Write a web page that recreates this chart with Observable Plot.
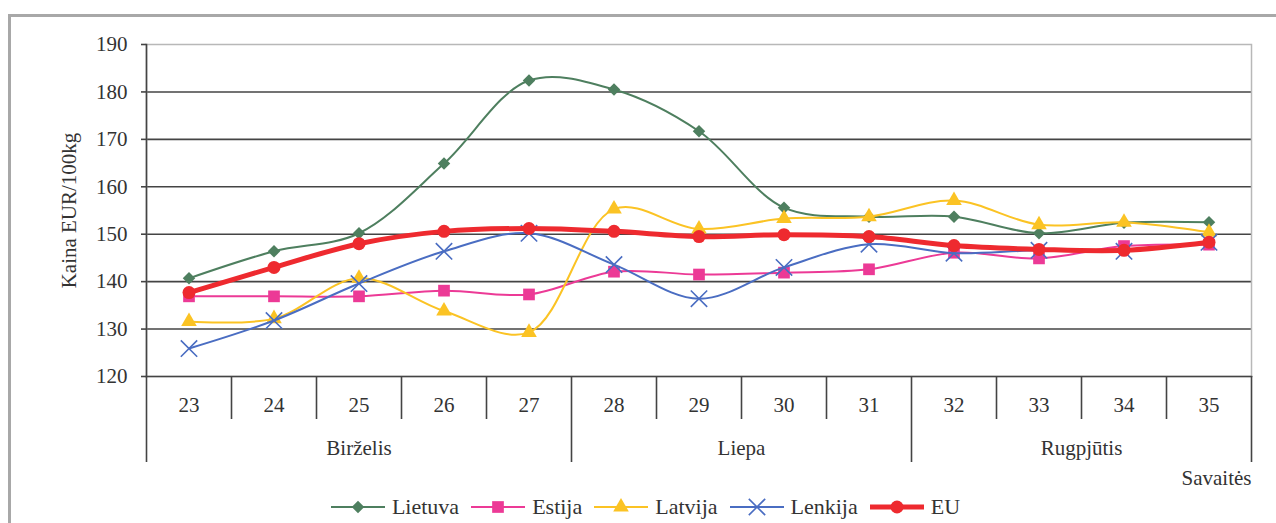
<!DOCTYPE html>
<html>
<head>
<meta charset="utf-8">
<script src="https://cdn.jsdelivr.net/npm/d3@7"></script>
<script src="https://cdn.jsdelivr.net/npm/@observablehq/plot@0.6"></script>
<style>
  html, body { margin: 0; padding: 0; background: #fff; width: 1276px; height: 523px; overflow: hidden; }
  #frame { position: absolute; left: 8px; top: 14px; width: 1300px; height: 540px; border: 3px solid #a8a8a8; box-sizing: border-box; }
  #chart { position: absolute; left: 0; top: 0; }
  #legend { position: absolute; left: 0; top: 494px; width: 1291px; display: flex; justify-content: center; align-items: center;
    font-family: "Liberation Serif", serif; font-size: 22px; line-height: 26px; color: #333; }
  .item { display: flex; align-items: center; margin: 0 6px; }
  .item svg { margin-right: 7px; }
</style>
</head>
<body>
<div id="frame"></div>
<div id="chart"></div>
<div id="legend"></div>
<script>
// ---- data ----
const weeks = [23, 24, 25, 26, 27, 28, 29, 30, 31, 32, 33, 34, 35];
const months = ["Birželis", "Liepa", "Rugpjūtis"];
const monthFirstWeek = [23, 28, 32];
const monthLastWeek = [27, 31, 35];
const yTicks = [120, 130, 140, 150, 160, 170, 180, 190];
const seriesNames = ["Lietuva", "Estija", "Latvija", "Lenkija", "EU"];
const lietuva = [140.7, 146.4, 150.2, 164.9, 182.4, 180.5, 171.7, 155.6, 153.7, 153.7, 150.2, 152.4, 152.5];
const estija  = [136.9, 136.9, 136.9, 138.1, 137.3, 142.1, 141.5, 141.9, 142.6, 146.1, 144.9, 147.5, 147.8];
const latvija = [131.6, 132.2, 140.7, 133.8, 129.3, 155.3, 151.1, 153.3, 153.7, 157.1, 152.0, 152.5, 150.4];
const lenkija = [125.9, 131.8, 139.6, 146.4, 150.2, 143.6, 136.4, 143.0, 147.9, 146.0, 146.6, 146.4, 148.3];
const eu      = [137.7, 143.0, 148.0, 150.6, 151.2, 150.6, 149.5, 149.9, 149.5, 147.6, 146.8, 146.6, 148.3];

const valuesBySeries = [lietuva, estija, latvija, lenkija, eu];
const colors = ["#4e7f5f", "#ec3a96", "#fbc324", "#4a6dc2", "#ee2a2f"];
const symbols = ["square", "square", "triangle", "times", "circle"];
const rotates = [45, 0, 0, 0, 0];
const radii = [5, 6.6, 5.8, 7.5, 6.5];
const widths = [2, 2, 2, 2, 5];

const rows = seriesNames.map((name, i) => weeks.map((w, j) => ({series: name, week: w, value: valuesBySeries[i][j]})));

const weekBoundaries = weeks.map(w => w - 0.5).filter(b => !monthFirstWeek.some(m => m - 0.5 === b));
const monthBoundaries = monthFirstWeek.map(w => w - 0.5).concat([monthLastWeek[monthLastWeek.length - 1] + 0.5]);
const monthCenters = monthFirstWeek.map((w, i) => (w + monthLastWeek[i]) / 2);

const marks = [
  Plot.gridY(yTicks.filter(t => t > 120 && t < 190), {stroke: "#444", strokeOpacity: 1, strokeWidth: 1.6}),
  Plot.frame({stroke: "#b8b8b8", strokeWidth: 1.5}),
  Plot.frame({anchor: "left", stroke: "#444", strokeWidth: 1.6}),
  Plot.frame({anchor: "bottom", stroke: "#444", strokeWidth: 1.6}),
  Plot.axisY({ticks: yTicks, tickSize: 5, tickPadding: 14, stroke: "#444", strokeWidth: 1.6,
    label: "Kaina EUR/100kg", labelAnchor: "center", labelArrow: "none", labelOffset: 85}),
  Plot.axisX({ticks: weekBoundaries, tickSize: 43, tickFormat: () => "", stroke: "#444", strokeWidth: 1.6, label: null}),
  Plot.axisX({ticks: monthBoundaries, tickSize: 86, tickFormat: () => "", stroke: "#444", strokeWidth: 1.6, label: null}),
  Plot.axisX({ticks: weeks, tickSize: 0, tickPadding: 21, tickFormat: d => String(d), label: null}),
  Plot.axisX({ticks: [monthLastWeek[monthLastWeek.length - 1] + 0.5], tickSize: 0, tickPadding: 94, textAnchor: "end",
    tickFormat: () => "Savaitės", label: null}),
  Plot.axisX({ticks: monthCenters, tickSize: 0, tickPadding: 64, tickFormat: d => months[monthCenters.indexOf(d)], label: null})
];

seriesNames.forEach((name, i) => {
  marks.push(Plot.line(rows[i], {x: "week", y: "value", stroke: colors[i], strokeWidth: widths[i], curve: "catmull-rom"}));
  const dotOpts = {x: "week", y: "value", symbol: () => symbols[i], r: radii[i], rotate: rotates[i]};
  if (symbols[i] === "times") {
    marks.push(Plot.dot(rows[i], {...dotOpts, stroke: colors[i], strokeWidth: 1.6, fill: "none"}));
  } else {
    marks.push(Plot.dot(rows[i], {...dotOpts, fill: colors[i], stroke: "none"}));
  }
});

const chart = Plot.plot({
  width: 1276,
  height: 495,
  marginLeft: 146,
  marginRight: 25,
  marginTop: 44,
  marginBottom: 119,
  style: {fontFamily: "'Liberation Serif', serif", fontSize: "21px", color: "#333", background: "transparent", overflow: "visible"},
  x: {domain: [22.5, 35.5], axis: null},
  y: {domain: [120, 190], axis: null},
  symbol: {type: "identity"},
  marks
});
document.getElementById("chart").appendChild(chart);

// legend
const legend = document.getElementById("legend");
seriesNames.forEach((name, i) => {
  const item = document.createElement("div");
  item.className = "item";
  const w = 54, h = 20;
  const sym = d3.symbol().type({square: d3.symbolSquare, triangle: d3.symbolTriangle, times: d3.symbolTimes, circle: d3.symbolCircle}[symbols[i]]).size(Math.PI * radii[i] * radii[i])();
  const isTimes = symbols[i] === "times";
  item.innerHTML = `<svg width="${w}" height="${h}"><line x1="0" x2="${w}" y1="${h/2}" y2="${h/2}" stroke="${colors[i]}" stroke-width="${widths[i]}"/>` +
    `<path d="${sym}" transform="translate(${w/2},${h/2}) rotate(${rotates[i]})" fill="${isTimes ? "none" : colors[i]}" stroke="${isTimes ? colors[i] : "none"}" stroke-width="1.6"/></svg><span>${name}</span>`;
  legend.appendChild(item);
});
</script>
</body>
</html>
